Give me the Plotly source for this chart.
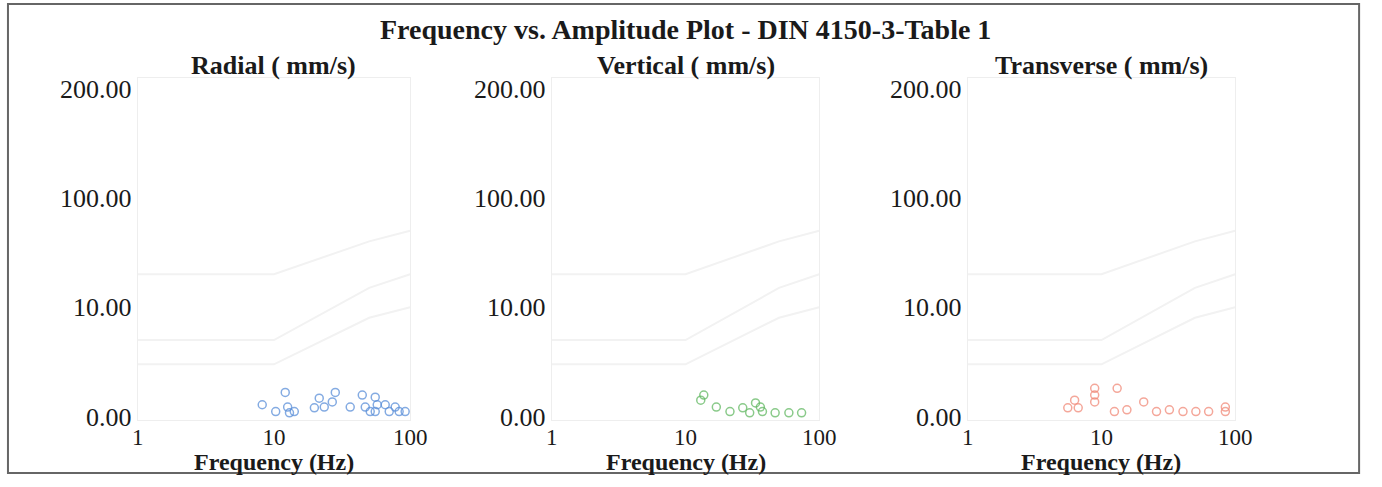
import plotly.graph_objects as go

W, H = 1382, 487

# ---------------- data ----------------
title_text = "Frequency vs. Amplitude Plot - DIN 4150-3-Table 1"
panel_titles = ["Radial ( mm/s)", "Vertical ( mm/s)", "Transverse ( mm/s)"]
x_title = "Frequency (Hz)"
x_tick_vals = [1, 10, 100]
x_tick_text = ["1", "10", "100"]
y_tick_vals = [1, 10, 100, 1000]
y_tick_text = ["0.00", "10.00", "100.00", "200.00"]

# DIN 4150-3 Table 1 guideline curves (frequency Hz, velocity mm/s)
din_freq = [1, 10, 50, 100]
din_line1 = [3, 3, 8, 10]
din_line2 = [5, 5, 15, 20]
din_line3 = [20, 20, 40, 50]

radial_freq = [8.2, 12.1, 10.3, 12.6, 13.0, 14.1, 21.5, 19.8, 23.4, 26.8, 28.2,
               36.3, 44.5, 46.8, 50.9, 55.4, 57.3, 55.4, 65.6, 70.2, 77.6, 83.0, 91.9]
radial_amp = [1.28, 1.66, 1.11, 1.22, 1.08, 1.11, 1.47, 1.20, 1.22, 1.36, 1.66,
              1.22, 1.57, 1.22, 1.11, 1.50, 1.28, 1.11, 1.28, 1.11, 1.22, 1.11, 1.11]

vertical_freq = [13.7, 13.0, 17.0, 21.5, 26.8, 30.2, 36.3, 37.6, 33.4, 46.8, 59.3, 73.8]
vertical_amp = [1.57, 1.41, 1.22, 1.11, 1.20, 1.08, 1.22, 1.11, 1.33, 1.08, 1.08, 1.08]

transverse_freq = [8.9, 8.9, 8.9, 6.3, 5.6, 6.7, 13.1, 20.7, 25.8, 32.2, 40.7,
                   50.8, 63.3, 84.4, 84.4, 12.5, 15.5]
transverse_amp = [1.81, 1.57, 1.36, 1.41, 1.20, 1.20, 1.81, 1.36, 1.11, 1.15, 1.11,
                  1.11, 1.11, 1.22, 1.11, 1.11, 1.15]

series = [
    (radial_freq, radial_amp, "#5b8fd8"),
    (vertical_freq, vertical_amp, "#63b863"),
    (transverse_freq, transverse_amp, "#f08a78"),
]

# ---------------- layout geometry (pixels) ----------------
x_domains_px = [(134, 411), (555, 827), (978, 1250)]
plot_top, plot_bot = 77, 430

fig = go.Figure()
serif = "Liberation Serif"
ink = "#1a1a1a"

for i, ((fx, fy, col), (xl, xr)) in enumerate(zip(series, x_domains_px)):
    n = "" if i == 0 else str(i + 1)
    xa, ya = "x" + n, "y" + n
    for line in (din_line1, din_line2, din_line3):
        fig.add_trace(go.Scatter(x=din_freq, y=line, mode="lines",
                                 line=dict(color="#f2f2f2", width=2),
                                 xaxis=xa, yaxis=ya, showlegend=False, hoverinfo="skip"))
    fig.add_trace(go.Scatter(x=fx, y=fy, mode="markers",
                             marker=dict(symbol="circle-open", size=8, color=col,
                                         line=dict(width=1.5, color=col), opacity=0.75),
                             xaxis=xa, yaxis=ya, showlegend=False))
    fig.update_layout(**{
        ("xaxis" + n): dict(type="log", range=[0, 2], domain=[xl / W, xr / W],
                            tickvals=x_tick_vals, ticktext=x_tick_text,
                            showgrid=False, zeroline=False, showline=True, mirror=True,
                            linecolor="#eeeeee", linewidth=1, ticks="",
                            tickfont=dict(family=serif, size=23, color=ink),
                            ticklabelstandoff=-3, anchor=ya),
        ("yaxis" + n): dict(type="log", range=[-0.03, 3.1],
                            domain=[1 - plot_bot / H, 1 - plot_top / H],
                            tickvals=y_tick_vals, ticktext=y_tick_text,
                            showgrid=False, zeroline=False, showline=True, mirror=True,
                            linecolor="#eeeeee", linewidth=1, ticks="",
                            tickfont=dict(family=serif, size=26, color=ink),
                            anchor=xa),
    })
    cx = (xl + xr) / 2 / W
    fig.add_annotation(text="<b>" + panel_titles[i] + "</b>", x=cx, y=1 - 64 / H,
                       xref="paper", yref="paper", showarrow=False,
                       xanchor="center", yanchor="middle",
                       font=dict(family=serif, size=26, color=ink))
    fig.add_annotation(text="<b>" + x_title + "</b>", x=cx, y=1 - 459 / H,
                       xref="paper", yref="paper", showarrow=False,
                       xanchor="center", yanchor="top", borderpad=0,
                       font=dict(family=serif, size=24, color=ink))

fig.add_annotation(text="<b>" + title_text + "</b>", x=691 / W, y=1 - 27 / H,
                   xref="paper", yref="paper", showarrow=False,
                   xanchor="center", yanchor="middle",
                   font=dict(family=serif, size=28, color=ink))

fig.add_shape(type="rect", xref="paper", yref="paper",
              x0=2 / W, x1=1376 / W, y0=1 - 485 / H, y1=1 - 1 / H,
              line=dict(color="#666666", width=2))

fig.update_layout(width=W, height=H, margin=dict(l=0, r=0, t=0, b=0),
                  paper_bgcolor="white", plot_bgcolor="white")

fig.write_html("out.html", config={"displayModeBar": False},
               post_script="document.documentElement.style.overflow='hidden';"
                           "document.body.style.margin='0';"
                           "document.body.style.overflow='hidden';")
